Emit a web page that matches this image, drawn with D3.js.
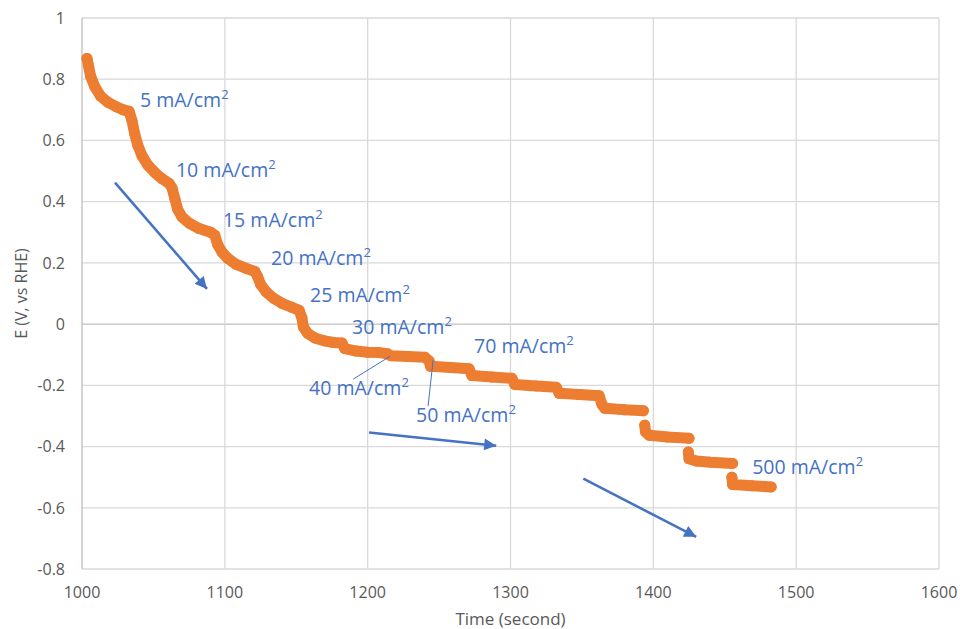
<!DOCTYPE html>
<html>
<head>
<meta charset="utf-8">
<script src="https://cdn.jsdelivr.net/npm/d3@7"></script>
<style>
  body { margin: 0; background: #fff; }
  svg { display: block; font-family: "Open Sans", sans-serif; }
</style>
</head>
<body>
<svg id="chart" width="960" height="629"></svg>
<script>
// potential vs time, NaN marks a gap between recorded steps
const times = [1003.5, 1004.5, 1006, 1009, 1013, 1018, 1024, 1029, 1033, 1035, 1037, 1039, 1042, 1046, 1051, 1056, 1061,
  1063, 1065, 1067, 1070, 1075, 1082, 1090, 1093, 1095, 1098, 1102, 1108, 1115, 1121, 1123, 1125, 1129, 1134, 1140, 1147,
  1152, 1154, 1155, 1158, 1163, 1170, 1176, 1182, 1184, 1192, 1200, 1208, 1214, 1216, 1228, 1240, 1243, 1244, 1258, 1271,
  1273, 1287, 1301, 1303, 1318, 1332, 1334, 1348, 1362, 1364, 1366, 1380, 1393,
  NaN, 1394, 1394.5, 1397, 1410, 1425,
  NaN, 1424.5, 1425, 1430, 1440, 1455.5,
  NaN, 1455, 1455.5, 1469, 1482.5];
const potentials = [0.868, 0.845, 0.81, 0.775, 0.745, 0.725, 0.71, 0.70, 0.695, 0.665, 0.62, 0.585, 0.55, 0.52, 0.495, 0.475, 0.46,
  0.445, 0.41, 0.375, 0.35, 0.33, 0.312, 0.300, 0.29, 0.26, 0.235, 0.215, 0.195, 0.182, 0.172, 0.155, 0.13, 0.105, 0.085, 0.068, 0.055,
  0.045, 0.02, -0.01, -0.03, -0.045, -0.055, -0.06, -0.062, -0.08, -0.088, -0.092, -0.093, -0.097, -0.103, -0.106, -0.108, -0.12, -0.138, -0.142, -0.146,
  -0.168, -0.173, -0.177, -0.197, -0.202, -0.206, -0.226, -0.230, -0.234, -0.262, -0.275, -0.28, -0.283,
  NaN, -0.33, -0.352, -0.363, -0.369, -0.373,
  NaN, -0.418, -0.44, -0.447, -0.451, -0.455,
  NaN, -0.50, -0.524, -0.528, -0.532];

const xTicks = [1000, 1100, 1200, 1300, 1400, 1500, 1600];
const yTicks = [-0.8, -0.6, -0.4, -0.2, 0, 0.2, 0.4, 0.6, 0.8, 1];

// current density labels: [text, time, potential]
const labels = [
  ['5', 1040.6, 0.709], ['10', 1065.8, 0.480], ['15', 1098.7, 0.317], ['20', 1132.4, 0.193],
  ['25', 1159.7, 0.072], ['30', 1189.1, -0.033], ['40', 1159, -0.232], ['50', 1233.9, -0.320],
  ['70', 1274.5, -0.095], ['500', 1469.2, -0.490]
];
// thin leader lines from labels to the curve
const leaders = [[1189.8, -0.18, 1215.7, -0.105], [1242.3, -0.268, 1245.8, -0.118]];
// trend arrows
const arrows = [[1023.1, 0.462, 1087.5, 0.115], [1201, -0.354, 1290, -0.397], [1351, -0.505, 1430, -0.695]];

const blue = '#4472C4', orange = '#ED7D31';
const svg = d3.select('#chart');
const x = d3.scaleLinear().domain([1000, 1600]).range([82, 939]);
const y = d3.scaleLinear().domain([-0.8, 1]).range([569, 18]);

// grid
svg.append('g').selectAll('line').data(yTicks).join('line')
  .attr('x1', x(1000)).attr('x2', x(1600))
  .attr('y1', d => y(d)).attr('y2', d => y(d))
  .attr('stroke', d => d === 0 ? '#BFBFBF' : '#D9D9D9').attr('stroke-width', 1.3);
svg.append('g').selectAll('line').data(xTicks.slice(1)).join('line')
  .attr('x1', d => x(d)).attr('x2', d => x(d))
  .attr('y1', y(-0.8)).attr('y2', y(1))
  .attr('stroke', '#D9D9D9').attr('stroke-width', 1.3);
svg.append('line')
  .attr('x1', x(1000)).attr('x2', x(1000)).attr('y1', y(-0.8)).attr('y2', y(1))
  .attr('stroke', '#BFBFBF').attr('stroke-width', 1.3);

// tick labels
svg.append('g').selectAll('text').data(yTicks).join('text')
  .attr('x', 65).attr('y', d => y(d)).attr('dy', '0.36em')
  .attr('text-anchor', 'end').attr('font-size', 16).attr('fill', '#595959')
  .text(d => String(Math.round(d * 10) / 10));
svg.append('g').selectAll('text').data(xTicks).join('text')
  .attr('x', d => x(d)).attr('y', 598)
  .attr('text-anchor', 'middle').attr('font-size', 16).attr('fill', '#595959')
  .text(d => d);

// axis titles
svg.append('text').attr('x', (x(1000) + x(1600)) / 2).attr('y', 625)
  .attr('text-anchor', 'middle').attr('font-size', 17).attr('fill', '#595959')
  .text('Time (second)');
svg.append('text').attr('transform', 'translate(27,' + (y(1) + y(-0.8)) / 2 + ') rotate(-90)')
  .attr('text-anchor', 'middle').attr('font-size', 16).attr('fill', '#595959')
  .text('E (V, vs RHE)');

// series
const pts = times.map((t, i) => ({t: t, e: potentials[i]}));
svg.append('path').datum(pts)
  .attr('fill', 'none').attr('stroke', orange).attr('stroke-width', 11)
  .attr('stroke-linejoin', 'round').attr('stroke-linecap', 'round')
  .attr('d', d3.line().defined(d => !isNaN(d.t)).x(d => x(d.t)).y(d => y(d.e)));
svg.append('g').selectAll('circle').data(pts.filter(d => !isNaN(d.t))).join('circle')
  .attr('cx', d => x(d.t)).attr('cy', d => y(d.e)).attr('r', 5.5).attr('fill', orange);

// leaders and arrows
svg.append('g').selectAll('line').data(leaders).join('line')
  .attr('x1', d => x(d[0])).attr('y1', d => y(d[1])).attr('x2', d => x(d[2])).attr('y2', d => y(d[3]))
  .attr('stroke', blue).attr('stroke-width', 1);

svg.append('defs').append('marker')
  .attr('id', 'head').attr('viewBox', '0 0 10 10').attr('refX', 10).attr('refY', 5)
  .attr('markerUnits', 'userSpaceOnUse').attr('markerWidth', 15).attr('markerHeight', 12)
  .attr('orient', 'auto')
  .append('path').attr('d', 'M0,0L10,5L0,10Z').attr('fill', blue);
svg.append('g').selectAll('line').data(arrows).join('line')
  .attr('x1', d => x(d[0])).attr('y1', d => y(d[1])).attr('x2', d => x(d[2])).attr('y2', d => y(d[3]))
  .attr('stroke', blue).attr('stroke-width', 2.5).attr('marker-end', 'url(#head)');

// labels
const lab = svg.append('g').selectAll('text').data(labels).join('text')
  .attr('x', d => x(d[1])).attr('y', d => y(d[2]))
  .attr('font-size', 19.5).attr('fill', blue);
lab.append('tspan').text(d => d[0] + ' mA/cm');
lab.append('tspan').attr('font-size', 13).attr('dy', -8).text('2');
</script>
</body>
</html>
